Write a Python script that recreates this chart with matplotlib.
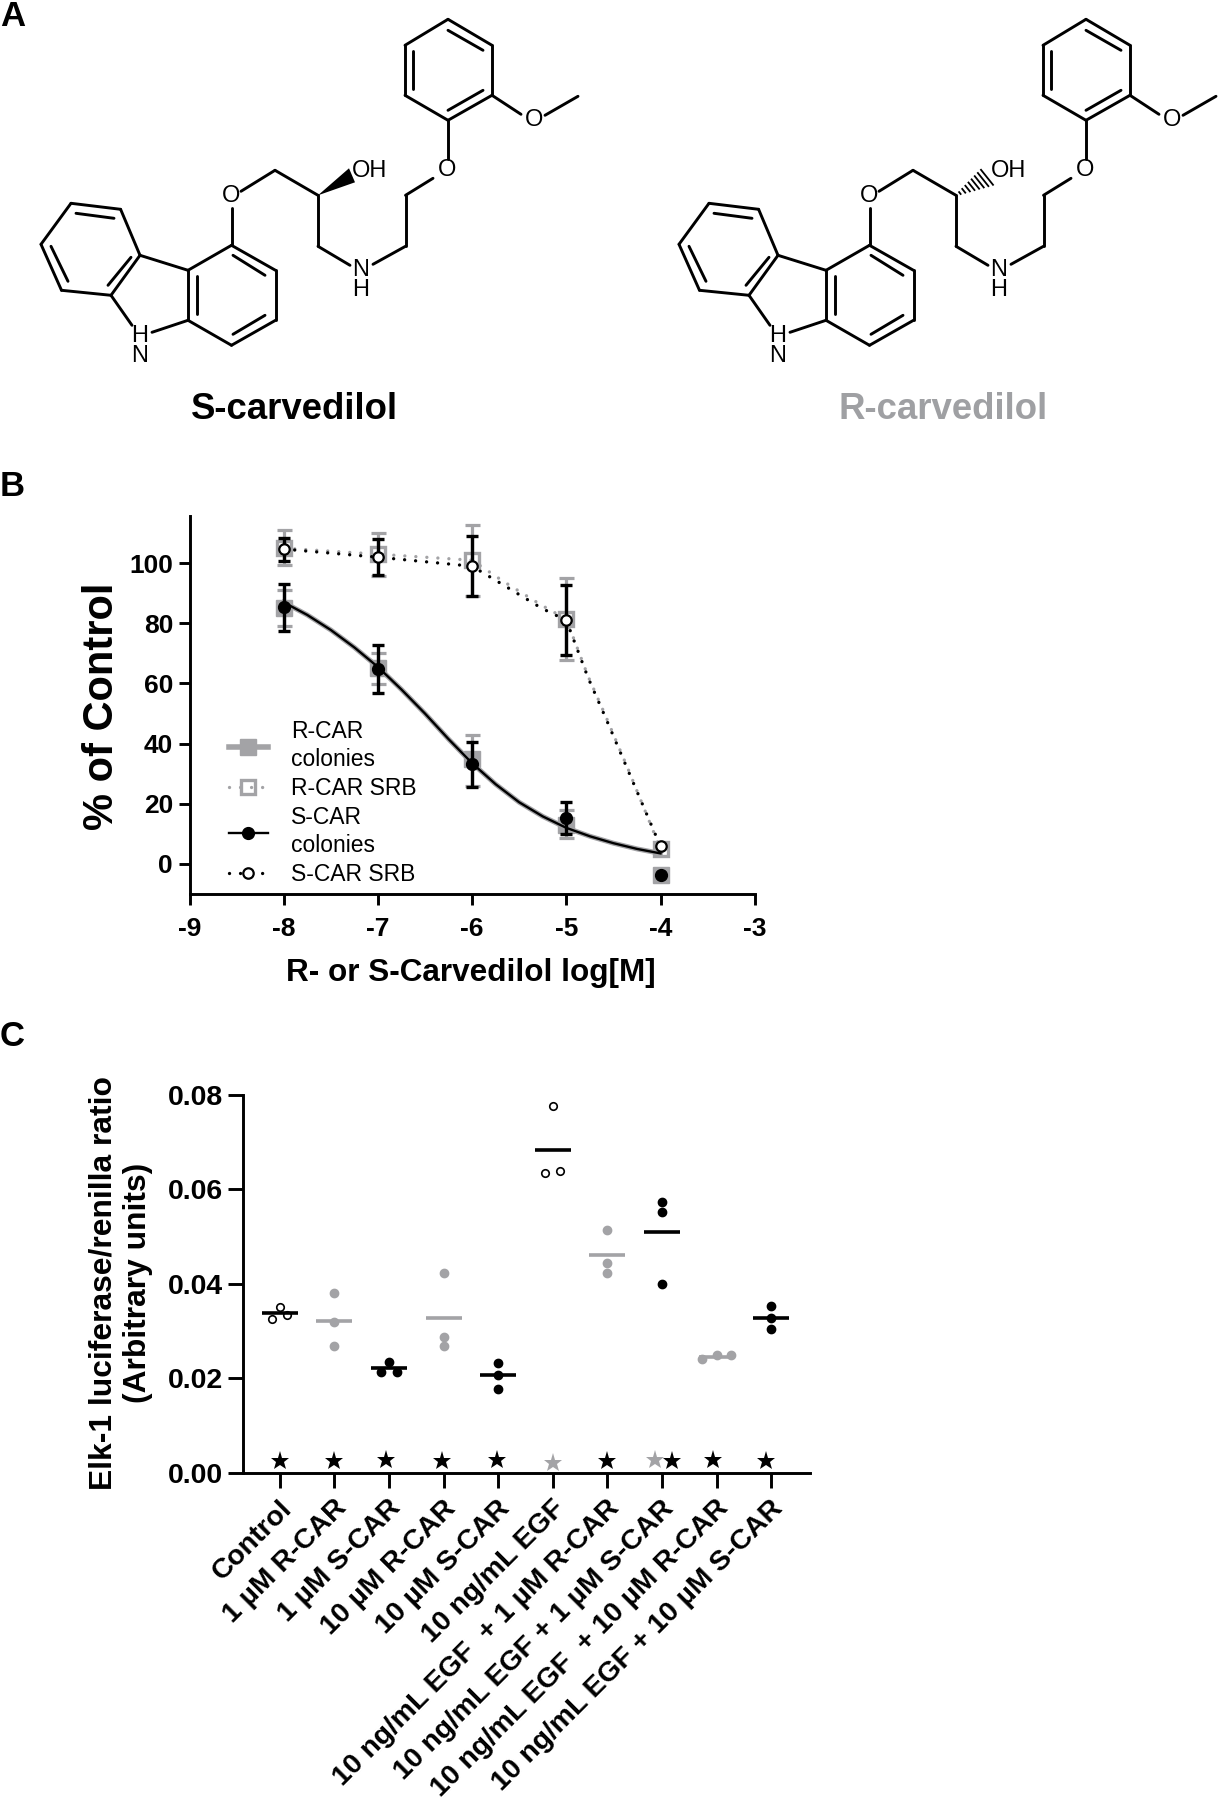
import matplotlib
matplotlib.use("Agg")
import matplotlib.pyplot as plt
from matplotlib.lines import Line2D
from matplotlib.patches import Polygon
from matplotlib.transforms import Affine2D, ScaledTranslation

W, H = 1218, 1800
GREY = "#a3a3a6"

plt.rcParams["font.family"] = ["Liberation Sans", "DejaVu Sans"]
plt.rcParams["axes.unicode_minus"] = False

# panel B
doses = [-8, -7, -6, -5, -4]
r_colonies = [85, 65, 35, 13, -3.6]
r_col_up = [6, 5.3, 8, 5, 0]
r_col_low = [6, 5.1, 9, 4.5, 0]
s_colonies = [85.3, 64.9, 33.1, 15.2, -3.6]
s_col_up = [7.7, 7.9, 7.6, 5.3, 0]
s_col_low = [8, 7.9, 7.4, 5.2, 0]
r_srb = [105, 103, 101, 81.4, 4.9]
r_srb_up = [5.9, 7, 11.7, 13.6, 0]
r_srb_low = [5.6, 7.2, 12, 13.5, 0]
s_srb = [104.7, 102, 99, 81, 5.8]
s_srb_up = [3.6, 6, 10, 11.6, 0]
s_srb_low = [3.8, 6, 10, 11.5, 0]

fit_x = [-8, -7.75, -7.5, -7.25, -7, -6.75, -6.5, -6.25, -6, -5.75, -5.5, -5.25, -5, -4.75, -4.5, -4.25, -4]
fit_y = [87, 82.8, 77.8, 72, 65.5, 58, 50, 41.5, 33.5, 26.5, 20.5, 15.8, 12, 9.2, 6.9, 5, 3.5]
srb_x = [-8, -7, -6, -5.67, -5.26, -5, -4.77, -4.58, -4.33, -4]
r_srb_line = [105, 103, 101, 94, 86, 81.4, 62.5, 49, 30.5, 5]
s_srb_line = [104.7, 102, 99, 92.8, 85, 81, 62, 48.4, 30, 5.8]

# panel C
groups = ["Control", "1 µM R-CAR", "1 µM S-CAR", "10 µM R-CAR", "10 µM S-CAR", "10 ng/mL EGF",
          "10 ng/mL EGF  + 1 µM R-CAR", "10 ng/mL EGF + 1 µM S-CAR",
          "10 ng/mL EGF  + 10 µM R-CAR", "10 ng/mL EGF + 10 µM S-CAR"]
replicates = [[0.0325, 0.03516, 0.0334], [0.038, 0.032, 0.0268], [0.0214, 0.0235, 0.0214],
              [0.0422, 0.0288, 0.0268], [0.0233, 0.0207, 0.0177], [0.0634, 0.0777, 0.0639],
              [0.0515, 0.0445, 0.0422], [0.0574, 0.0552, 0.0399], [0.024, 0.0249, 0.0249],
              [0.0353, 0.0327, 0.0304]]
offsets = [[-0.14, 0, 0.14], [0, 0, 0], [-0.14, 0, 0.14], [0, 0, 0], [0, 0, 0],
           [-0.14, 0, 0.14], [0, 0, 0], [0, 0, 0], [-0.27, 0, 0.27], [0, 0, 0]]
means = [0.03375, 0.0322, 0.0222, 0.0327, 0.0206, 0.0684, 0.0461, 0.0509, 0.0246, 0.0328]
point_colors = ["white", GREY, "black", GREY, "black", "white", GREY, "black", GREY, "black"]
mean_colors = ["black", GREY, "black", GREY, "black", "black", GREY, "black", GREY, "black"]
star_x = [0, 1, 1.95, 2.98, 3.97, 5, 6, 6.88, 7.19, 7.93, 8.9]
star_y = [0.0025, 0.0025, 0.0026, 0.0025, 0.0026, 0.0021, 0.0025, 0.0026, 0.0025, 0.0026, 0.0025]
star_colors = ["black"] * 5 + [GREY, "black", GREY] + ["black"] * 3

# panel A, pixel positions of the S form
atoms = {"a1": (448, 17), "a2": (492, 43), "a3": (492, 93), "a4": (448, 118), "a5": (405, 93), "a6": (405, 43),
         "c1": (405.5, 193), "c2": (405.5, 244), "c3": (318, 244), "c4": (318, 193), "c5": (275, 168),
         "b1": (231.5, 243), "b2": (275.5, 268), "b3": (275.5, 318), "b4": (231.5, 343), "b5": (188, 318), "b6": (188, 268),
         "d1": (140, 253), "d2": (120.6, 207), "d3": (71, 201), "d4": (41, 242), "d5": (61.5, 288), "d6": (111, 293)}
bonds = [("a1", "a2"), ("a2", "a3"), ("a3", "a4"), ("a4", "a5"), ("a5", "a6"), ("a6", "a1"),
         ("c1", "c2"), ("c3", "c4"), ("c4", "c5"),
         ("b1", "b2"), ("b2", "b3"), ("b3", "b4"), ("b4", "b5"), ("b5", "b6"), ("b6", "b1"),
         ("b6", "d1"), ("d1", "d2"), ("d2", "d3"), ("d3", "d4"), ("d4", "d5"), ("d5", "d6"), ("d6", "d1")]
# bonds that stop short of a heteroatom label, and the inner lines of the double bonds
short_bonds = [((448, 118), (448, 157)), ((492, 93), (521, 112)), ((545, 113), (578, 94)),
               ((433, 176), (405.5, 193)), ((405.5, 244), (373, 262)), ((318, 244), (350, 263)),
               ((275, 168), (241, 189)), ((231.5, 206), (231.5, 243)),
               ((188, 318), (152, 330)), ((111, 293), (132, 323))]
inner_bonds = [((448, 28), (483, 48)), ((413, 49), (413, 87)), ((483, 88), (448, 108)),
               ((233, 253), (265, 273)), ((265, 313), (233, 332)), ((197, 274), (197, 312)),
               ((76, 211), (114, 216)), ((51, 244), (68, 279)), ((108, 283), (131, 255))]
mol_labels = [("O", 534, 118), ("O", 447.5, 168), ("N", 361, 268), ("H", 361, 288),
              ("O", 231.5, 194), ("H", 140, 334), ("N", 140, 354)]
mol_dx = [0, 638]
mol_dy = 2.3
mol_names = ["S-carvedilol", "R-carvedilol"]
mol_name_x = [294, 943]
mol_colors = ["black", "#9fa0a3"]
panel_letters = [("A", 0, 17), ("B", 0, 486), ("C", 0, 1037)]

fig = plt.figure(figsize=(W / 100, H / 100), dpi=100)
px = Affine2D().scale(1 / W, -1 / H).translate(0, 1) + fig.transFigure


def axes_px(left, top, right, bottom):
    return fig.add_axes([left / W, 1 - bottom / H, (right - left) / W, (bottom - top) / H])


# A: structures
bg = fig.add_axes([0, 0, 1, 1])
bg.set_xlim(0, W)
bg.set_ylim(H, 0)
bg.axis("off")
for i, dx in enumerate(mol_dx):
    segs = [(atoms[p], atoms[q]) for p, q in bonds] + short_bonds + inner_bonds
    for p, q in segs:
        bg.plot([p[0] + dx, q[0] + dx], [p[1] + mol_dy, q[1] + mol_dy], color="black", lw=2.1, solid_capstyle="round")
    for s, x, y in mol_labels:
        bg.text(x + dx, y + mol_dy, s, fontsize=17, ha="center", va="center", color="black")
    if i == 0:
        bg.add_patch(Polygon([(318, 193 + mol_dy), (349, 166 + mol_dy), (355, 180 + mol_dy)], closed=True, color="black", lw=0))
        bg.text(352, 169 + mol_dy, "OH", fontsize=17, ha="left", va="center")
    else:
        for k in range(1, 9):
            t = k / 8
            xm = 318 + dx + 31 * t
            ym = 193 + mol_dy - 18 * t
            bg.plot([xm - 6 * t, xm + 6 * t], [ym - 7.5 * t, ym + 7.5 * t], color="black", lw=1.3)
        bg.text(991, 169 + mol_dy, "OH", fontsize=17, ha="left", va="center")
    bg.text(mol_name_x[i], 409.5, mol_names[i], fontsize=26.4, fontweight="bold", color=mol_colors[i],
            ha="center", va="center")
for s, x, y in panel_letters:
    bg.text(x, y, s, fontsize=25, fontweight="bold", ha="left", va="center")

# B: dose response
ax = axes_px(189.5, 516, 754.7, 894)
ax.set_xlim(-9, -3)
ax.set_ylim(-10, 115.7)
ax.plot(fit_x, fit_y, color=GREY, lw=3.6, zorder=2)
ax.plot(doses, r_colonies, ls="none", marker="s", ms=11.5, color=GREY, zorder=2)
ax.errorbar(doses[:4], r_colonies[:4], yerr=[r_col_low[:4], r_col_up[:4]], fmt="none", ecolor=GREY,
            elinewidth=2.3, capsize=5.4, capthick=2.3, zorder=2)
ax.plot(srb_x, r_srb_line, color=GREY, lw=2.4, ls=(0, (0.01, 3.3)), dash_capstyle="round", zorder=3)
ax.plot(doses, r_srb, ls="none", marker="s", ms=10.5, mfc="none", mec=GREY, mew=2.4, zorder=3)
ax.errorbar(doses[:4], r_srb[:4], yerr=[r_srb_low[:4], r_srb_up[:4]], fmt="none", ecolor=GREY,
            elinewidth=2.3, capsize=5.4, capthick=2.3, zorder=3)
ax.plot(fit_x, fit_y, color="black", lw=1.7, zorder=4)
ax.errorbar(doses[:4], s_colonies[:4], yerr=[s_col_low[:4], s_col_up[:4]], fmt="none", ecolor="black",
            elinewidth=2.4, capsize=4.6, capthick=2.4, zorder=4)
ax.plot(doses, s_colonies, ls="none", marker="o", ms=8.5, color="black", zorder=4)
ax.plot(srb_x, s_srb_line, color="black", lw=2.4, ls=(0, (0.01, 3.3)), dash_capstyle="round", zorder=5)
ax.errorbar(doses[:4], s_srb[:4], yerr=[s_srb_low[:4], s_srb_up[:4]], fmt="none", ecolor="black",
            elinewidth=2.4, capsize=4.6, capthick=2.4, zorder=5)
ax.plot(doses, s_srb, ls="none", marker="o", ms=7.5, mfc="white", mec="black", mew=1.6, zorder=6)

ax.set_xticks([-9, -8, -7, -6, -5, -4, -3])
ax.set_yticks([0, 20, 40, 60, 80, 100])
ax.tick_params(axis="x", length=7.8, width=2.1, pad=9, labelsize=19)
ax.tick_params(axis="y", length=7.8, width=2.1, pad=4, labelsize=19)
for lab in ax.get_xticklabels() + ax.get_yticklabels():
    lab.set_fontweight("bold")
for s in ["top", "right"]:
    ax.spines[s].set_visible(False)
for s in ["left", "bottom"]:
    ax.spines[s].set_linewidth(2.1)
ax.set_xlabel("R- or S-Carvedilol log[M]", fontsize=22.7, fontweight="bold")
ax.xaxis.set_label_coords(471, 973, transform=px)
ax.xaxis.label.set_va("center")
ax.set_ylabel("% of Control", fontsize=30, fontweight="bold")
ax.yaxis.set_label_coords(102, 706, transform=px)
ax.yaxis.label.set_va("center")

handles = [
    Line2D([], [], color=GREY, lw=4, marker="s", ms=11.5),
    Line2D([], [], color=GREY, lw=2.4, ls=(0, (0.01, 3.3)), dash_capstyle="round", marker="s", ms=10.5, mfc="none", mew=2.4),
    Line2D([], [], color="black", lw=1.7, marker="o", ms=8.5),
    Line2D([], [], color="black", lw=2.4, ls=(0, (0.01, 3.3)), dash_capstyle="round", marker="o", ms=7.5, mfc="white", mew=1.6),
]
leg = ax.legend(handles, ["R-CAR\ncolonies", "R-CAR SRB", "S-CAR\ncolonies", "S-CAR SRB"], frameon=False, fontsize=16.5,
                loc="upper left", bbox_to_anchor=(229 / W, 1 - 720 / H), bbox_transform=fig.transFigure, borderpad=0,
                borderaxespad=0, handlelength=1.7, handletextpad=1.0, labelspacing=0.25, numpoints=1)
for t in leg.get_texts():
    t.set_linespacing(1.3)

# C: reporter assay
ax2 = axes_px(243.4, 1095, 809.5, 1472.7)
ax2.set_xlim(-0.665, 9.70)
ax2.set_ylim(0, 0.08)
for i in range(len(groups)):
    xs = [i + d for d in offsets[i]]
    if point_colors[i] == "white":
        ax2.plot(xs, replicates[i], ls="none", marker="o", ms=5.4, mfc="white", mec="black", mew=1.2, zorder=3)
    else:
        ax2.plot(xs, replicates[i], ls="none", marker="o", ms=6, color=point_colors[i], zorder=3)
    ax2.hlines(means[i], i - 0.33, i + 0.33, color=mean_colors[i], lw=2.6, zorder=4)
for x, y, c in zip(star_x, star_y, star_colors):
    ax2.plot(x, y, ls="none", marker="*", ms=14, color=c, mew=0, clip_on=False, zorder=3)

ax2.set_yticks([0, 0.02, 0.04, 0.06, 0.08])
ax2.set_yticklabels(["0.00", "0.02", "0.04", "0.06", "0.08"], fontweight="bold", fontsize=20.5)
ax2.set_xticks(range(len(groups)))
ax2.set_xticklabels(groups, fontweight="bold", fontsize=20.4, rotation=45, ha="right", va="center", rotation_mode="anchor")
ax2.tick_params(axis="y", length=10.8, width=2.1, pad=4)
ax2.tick_params(axis="x", length=10.8, width=2.1, pad=12)
shift = ScaledTranslation(8 / 100, 0, fig.dpi_scale_trans)
for lab in ax2.get_xticklabels():
    lab.set_transform(lab.get_transform() + shift)
for s in ["top", "right"]:
    ax2.spines[s].set_visible(False)
for s in ["left", "bottom"]:
    ax2.spines[s].set_linewidth(2.1)
ax2.set_ylabel("Elk-1 luciferase/renilla ratio\n(Arbitrary units)", fontsize=22.9, fontweight="bold", linespacing=1.2)
ax2.yaxis.set_label_coords(121, 1283, transform=px)
ax2.yaxis.label.set_va("center")

fig.savefig("out.png", dpi=100)
